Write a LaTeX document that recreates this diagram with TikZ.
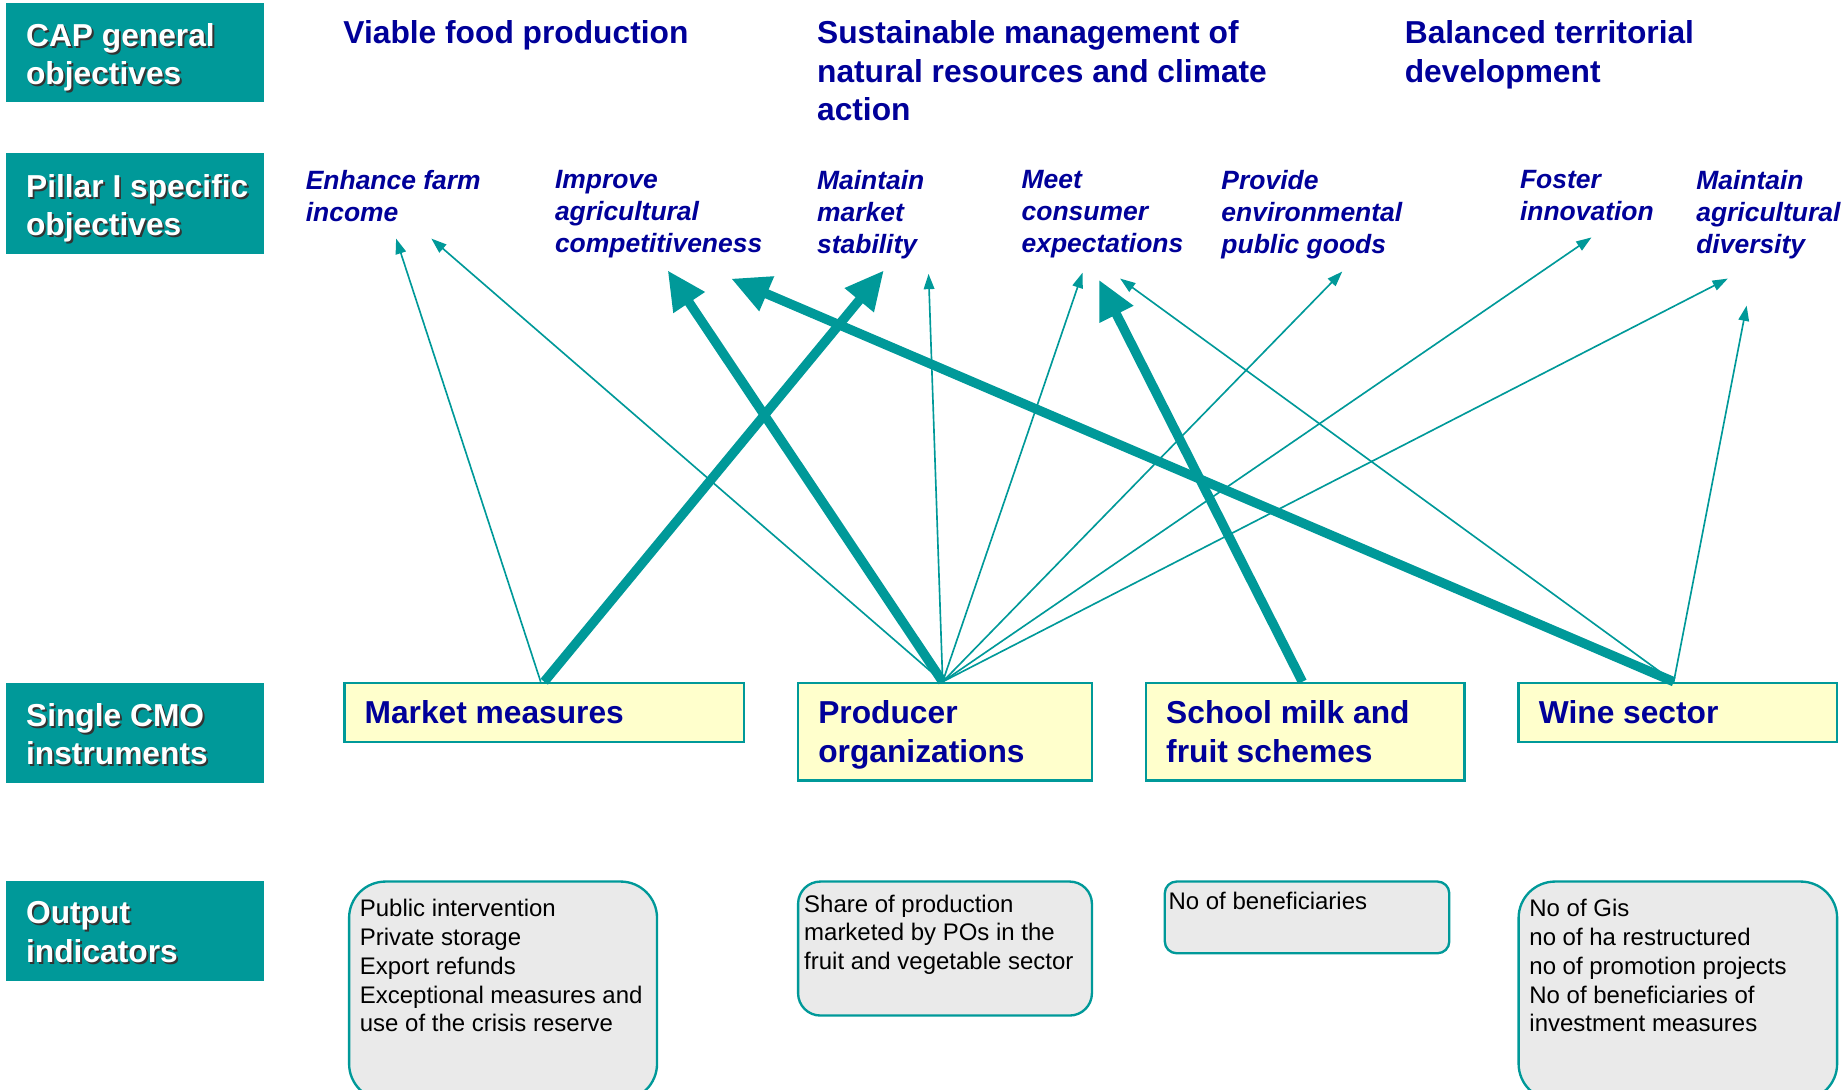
\documentclass[tikz,border=0pt]{standalone}
\usepackage{fontspec}
\setmainfont{Liberation Sans}
\usetikzlibrary{arrows.meta,calc}
\definecolor{teal1}{RGB}{0,153,153}
\definecolor{navy1}{RGB}{0,0,153}
\definecolor{yel1}{RGB}{255,255,204}
\definecolor{gry1}{RGB}{234,234,234}
\newcommand\shd[1]{\makebox[0pt][l]{\hspace{1.6pt}\raisebox{-1.6pt}{\color{black!80}#1}}#1}
\begin{document}
\begin{tikzpicture}[x=1pt,y=-1pt,
  labbox/.style={fill=teal1, minimum width=219pt, minimum height=85pt, anchor=north west, inner sep=0},
  labtxt/.style={anchor=north west, inner sep=0, align=left, text=white, font=\bfseries\fontsize{27}{32.5}\selectfont},
  gen/.style={anchor=north west, inner sep=0, align=left, text=navy1, font=\bfseries\fontsize{27}{33}\selectfont},
  spec/.style={anchor=north west, inner sep=0, align=left, text=navy1, font=\bfseries\itshape\fontsize{22.5}{27}\selectfont},
  inst/.style={draw=teal1, line width=2pt, fill=yel1, anchor=north west, inner sep=0},
  insttxt/.style={anchor=north west, inner sep=0, align=left, text=navy1, font=\bfseries\fontsize{27}{33}\selectfont},
  obox/.style={draw=teal1, line width=2pt, fill=gry1, anchor=north west, inner sep=0},
  otxt/.style={anchor=north west, inner sep=0, align=left, text=black, font=\fontsize{20.4}{24.5}\selectfont},
  thinarr/.style={draw=teal1, line width=1.4pt, -{Triangle[length=13pt,width=9pt]}},
  thickarr/.style={draw=teal1, line width=8pt, -{Triangle[length=33pt,width=30pt]}},
]
\useasboundingbox (0,0) rectangle (1568,927);
\begin{scope}
\clip (0,0) rectangle (1568,927);

% left labels
\node[labbox, minimum height=85pt] (lcap) at (5,2) {};
\node[labtxt] (lcapt) at (22,20) {\shd{CAP general}\\\shd{objectives}};
\node[labbox, minimum height=86pt] (lpil) at (5,130) {};
\node[labtxt] (lpilt) at (22,148) {\shd{Pillar I specific}\\\shd{objectives}};
\node[labbox, minimum height=85pt] (lcmo) at (5,581) {};
\node[labtxt] (lcmot) at (22,598) {\shd{Single CMO}\\\shd{instruments}};
\node[labbox, minimum height=85pt] (lout) at (5,749) {};
\node[labtxt] (loutt) at (22,767) {\shd{Output}\\\shd{indicators}};

% general objectives
\node[gen] (g1) at (292,17) {Viable food production};
\node[gen] (g2) at (695,17) {Sustainable management of\\natural resources and climate\\action};
\node[gen] (g3) at (1195,17) {Balanced territorial\\development};

% specific objectives
\node[spec] (s1) at (260,145) {Enhance farm\\income};
\node[spec] (s2) at (472,145) {Improve\\agricultural\\competitiveness};
\node[spec] (s3) at (695,145) {Maintain\\market\\stability};
\node[spec] (s4) at (869,145) {Meet\\consumer\\expectations};
\node[spec] (s5) at (1039,145) {Provide\\environmental\\public goods};
\node[spec] (s6) at (1293,145) {Foster\\innovation};
\node[spec] (s7) at (1443,145) {Maintain\\agricultural\\diversity};

% instruments
\node[inst, minimum width=340pt, minimum height=50pt] (mm) at (292,580) {};
\node[insttxt] (mmt) at (310,596) {Market measures};
\node[inst, minimum width=250pt, minimum height=83pt] (po) at (678,580) {};
\node[insttxt] (pot) at (696,596) {Producer\\organizations};
\node[inst, minimum width=271pt, minimum height=83pt] (sm) at (974,580) {};
\node[insttxt] (smt) at (992,596) {School milk and\\fruit schemes};
\node[inst, minimum width=271pt, minimum height=50pt] (ws) at (1291,580) {};
\node[insttxt] (wst) at (1309,596) {Wine sector};

% output indicators
\node[obox, minimum width=262pt, minimum height=186pt, rounded corners=31pt] (omm) at (296,749) {};
\node[otxt] (ommt) at (306,765) {Public intervention\\Private storage\\Export refunds\\Exceptional measures and\\use of the crisis reserve};
\node[obox, minimum width=250pt, minimum height=114pt, rounded corners=19pt] (opo) at (678,749) {};
\node[otxt] (opot) at (684,761) {Share of production\\marketed by POs in the\\fruit and vegetable sector};
\node[obox, minimum width=242pt, minimum height=61pt, rounded corners=10pt] (osm) at (990,749) {};
\node[otxt] (osmt) at (994,759) {No of beneficiaries};
\node[obox, minimum width=271pt, minimum height=186pt, rounded corners=31pt] (ows) at (1291,749) {};
\node[otxt] (owst) at (1301,765) {No of Gis\\no of ha restructured\\no of promotion projects\\No of beneficiaries of\\investment measures};

% arrow targets
\coordinate (tEF1) at (337,203);
\coordinate (tEF2) at (367,203);
\coordinate (tIAC1) at (568,230);
\coordinate (tIAC2) at (622,237);
\coordinate (tMMS1) at (752,230);
\coordinate (tMMS2) at (790,233);
\coordinate (tMCE1) at (921,232);
\coordinate (tMCE2) at (935,238);
\coordinate (tMCE3) at (953,237);
\coordinate (tPEP) at (1142,231);
\coordinate (tFI) at (1354,202);
\coordinate (tMAD1) at (1470,237);
\coordinate (tMAD2) at (1486,260);

% thin arrows
\draw[thinarr] ($(mm.north west)+(168,0)$) -- (tEF1);
\draw[thinarr] ($(po.north west)+(124,0)$) -- (tEF2);
\draw[thinarr] ($(po.north west)+(124,0)$) -- (tMMS2);
\draw[thinarr] ($(po.north west)+(124,0)$) -- (tMCE1);
\draw[thinarr] ($(po.north west)+(124,0)$) -- (tPEP);
\draw[thinarr] ($(po.north west)+(124,0)$) -- (tFI);
\draw[thinarr] ($(po.north west)+(124,0)$) -- (tMAD1);
\draw[thinarr] ($(ws.north west)+(133,0)$) -- (tMCE3);
\draw[thinarr] ($(ws.north west)+(133,0)$) -- (tMAD2);

% thick arrows
\draw[thickarr] ($(mm.north west)+(171,0)$) -- (tMMS1);
\draw[thickarr] ($(po.north west)+(124,0)$) -- (tIAC1);
\draw[thickarr] ($(sm.north west)+(134,0)$) -- (tMCE2);
\draw[thickarr] ($(ws.north west)+(133,0)$) -- (tIAC2);
\end{scope}
\end{tikzpicture}
\end{document}
